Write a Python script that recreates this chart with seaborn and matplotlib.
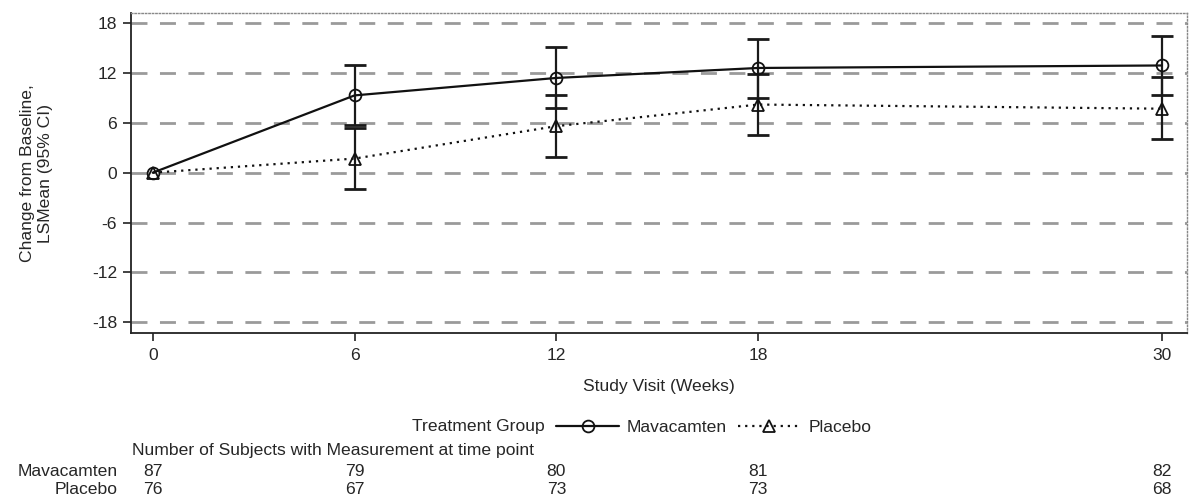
import matplotlib
matplotlib.use("Agg")
import matplotlib.pyplot as plt
from matplotlib.lines import Line2D
import numpy as np
import pandas as pd
import seaborn as sns

weeks = [0, 6, 12, 18, 30]
groups = ["Mavacamten", "Placebo"]

mava_mean = [0.0, 9.3, 11.4, 12.6, 12.9]
mava_lo = [0.0, 5.7, 7.8, 9.0, 9.35]
mava_hi = [0.0, 13.0, 15.1, 16.1, 16.4]

plac_mean = [0.0, 1.7, 5.6, 8.2, 7.7]
plac_lo = [0.0, -1.9, 1.9, 4.5, 4.0]
plac_hi = [0.0, 5.4, 9.3, 11.9, 11.55]

n_mava = [87, 79, 80, 81, 82]
n_plac = [76, 67, 73, 73, 68]

yticks = [-18, -12, -6, 0, 6, 12, 18]

df = pd.DataFrame({
    "week": weeks * 2,
    "group": [groups[0]] * len(weeks) + [groups[1]] * len(weeks),
    "mean": mava_mean + plac_mean,
    "lo": mava_lo + plac_lo,
    "hi": mava_hi + plac_hi,
})

sns.set_theme(style="white")
plt.rcParams["font.family"] = ["Liberation Sans", "DejaVu Sans"]
plt.rcParams["axes.unicode_minus"] = False
FS = 12.6
plt.rcParams["font.size"] = FS

fig = plt.figure(figsize=(11.9, 5.04), dpi=100)
ax = fig.add_axes([0.110, 0.339, 0.8875, 0.635])

# reference grid
for yv in yticks:
    ax.axhline(yv, color="#9a9a9a", lw=2.0, dashes=(5.75, 4.5), zorder=0)

# confidence intervals
for g in groups:
    sub = df[df["group"] == g]
    sub = sub[sub["week"] > 0]
    ax.errorbar(sub["week"], sub["mean"],
                yerr=[sub["mean"] - sub["lo"], sub["hi"] - sub["mean"]],
                fmt="none", ecolor="#1a1a1a", elinewidth=1.6, capsize=8,
                capthick=2.0, zorder=2)

sns.lineplot(data=df, x="week", y="mean", hue="group", style="group",
             palette={g: "#111111" for g in groups},
             dashes={"Mavacamten": "", "Placebo": (1, 2.2)},
             markers={"Mavacamten": "o", "Placebo": "^"},
             markersize=8.5, markerfacecolor="none", markeredgecolor="#111111",
             markeredgewidth=1.3, linewidth=1.6, legend=False, ax=ax, zorder=3)

ax.set_xlim(-0.65, 30.75)
ax.set_ylim(-19.3, 19.2)
ax.set_xticks(weeks)
ax.set_yticks(yticks)
ax.set_xlabel("Study Visit (Weeks)", fontsize=FS, labelpad=11)
ax.set_ylabel("Change from Baseline,\nLSMean (95% CI)", fontsize=FS, labelpad=28,
              linespacing=1.25)
ax.tick_params(axis="both", which="both", direction="out", length=6, width=1.2,
               color="#222222", labelsize=FS, left=True, bottom=True, pad=4)
ax.tick_params(axis="x", pad=5)

for side in ["left", "bottom"]:
    ax.spines[side].set_color("#222222")
    ax.spines[side].set_linewidth(1.3)
for side in ["top", "right"]:
    ax.spines[side].set_color("#888888")
    ax.spines[side].set_linewidth(1.0)
    ax.spines[side].set_linestyle((0, (1, 1.5)))

# legend row
fig.text(545 / 1190, 1 - 427 / 504, "Treatment Group", ha="right", va="center", fontsize=FS)
handles = [
    Line2D([], [], color="#111111", lw=1.6, ls="-", marker="o", markersize=8.5,
           markerfacecolor="none", markeredgewidth=1.3),
    Line2D([], [], color="#111111", lw=1.6, ls=(0, (1, 2.2)), marker="^", markersize=8.5,
           markerfacecolor="none", markeredgewidth=1.3),
]
fig.legend(handles, groups, loc="center left", bbox_to_anchor=(556 / 1190, 1 - 427 / 504),
           ncol=2, frameon=False, fontsize=FS, handlelength=3.6, handletextpad=0.45,
           columnspacing=0.6, borderaxespad=0, borderpad=0)

# subject counts table
fig.text(132 / 1190, 1 - 451 / 504, "Number of Subjects with Measurement at time point",
         ha="left", va="center", fontsize=FS)
trans = matplotlib.transforms.blended_transform_factory(ax.transData, fig.transFigure)
for row_y, label, counts in [(471, groups[0], n_mava), (490, groups[1], n_plac)]:
    fig.text(118 / 1190, 1 - row_y / 504, label, ha="right", va="center", fontsize=FS)
    for w, n in zip(weeks, counts):
        ax.text(w, 1 - row_y / 504, str(n), transform=trans, ha="center", va="center",
                fontsize=FS, clip_on=False)

fig.savefig("out.png", dpi=100)
